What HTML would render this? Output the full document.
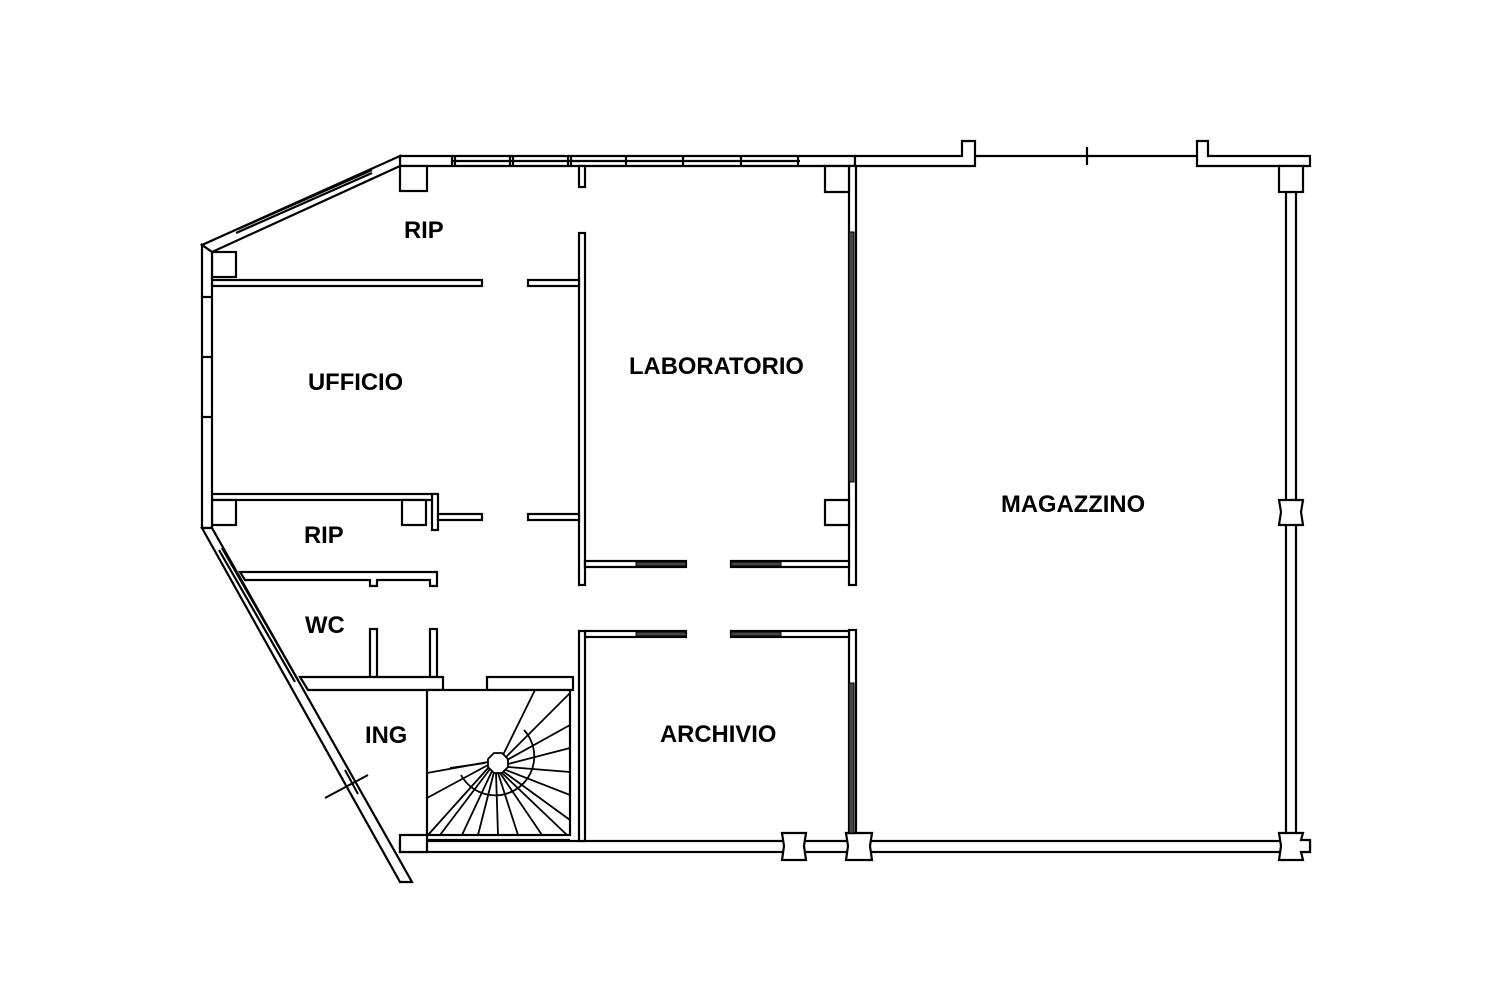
<!DOCTYPE html>
<html><head><meta charset="utf-8"><style>
html,body{margin:0;padding:0;background:#fff;}
svg{display:block}
text{font-family:"Liberation Sans",Arial,sans-serif;font-weight:bold;font-size:23.8px;fill:#000}
</style></head><body>
<svg width="1500" height="1000" viewBox="0 0 1500 1000" xmlns="http://www.w3.org/2000/svg">
<rect width="1500" height="1000" fill="#fff"/>
<g fill="#fff" stroke="#000" stroke-width="2.2" stroke-linejoin="miter">
<polygon points="400,156 855,156 855,166 825,166 825,166 427,166 427,166 400,166"/>
<line x1="452" y1="161" x2="800" y2="161"/>
<line x1="452" y1="156" x2="452" y2="166"/><line x1="455" y1="156" x2="455" y2="166"/>
<line x1="510" y1="156" x2="510" y2="166"/><line x1="513" y1="156" x2="513" y2="166"/>
<line x1="568" y1="156" x2="568" y2="166"/><line x1="571" y1="156" x2="571" y2="166"/>
<line x1="626" y1="156" x2="626" y2="166"/><line x1="683" y1="156" x2="683" y2="166"/>
<line x1="741" y1="156" x2="741" y2="166"/><line x1="798" y1="156" x2="798" y2="166"/>
<polygon points="855,156 962,156 962,141 975,141 975,166 855,166"/>
<line x1="975" y1="156" x2="1197" y2="156"/>
<line x1="1087" y1="147" x2="1087" y2="165"/>
<polygon points="1197,141 1208,141 1208,156 1310,156 1310,166 1208,166 1197,166"/>
<rect x="1286" y="192" width="10" height="648"/>
<rect x="1279" y="166" width="24" height="26"/>
<polygon points="1279,500 1303,500 1301,512 1303,525 1279,525 1281,512"/>
<rect x="400" y="841" width="910" height="11"/>
<polygon points="1279,833 1303,833 1301,840 1310,840 1310,852 1301,852 1303,860 1279,860 1281,846"/>
<polygon points="782,833 806,833 804,846 806,860 782,860 784,846"/>
<polygon points="846,833 872,833 870,846 872,860 846,860 848,846"/>
<rect x="849" y="166" width="7" height="419"/>
<rect x="849" y="630" width="7" height="203"/>
<rect x="849" y="232" width="5" height="250" fill="#444" stroke-width="1"/>
<rect x="849" y="683" width="5" height="150" fill="#444" stroke-width="1"/>
<polygon points="825,166 849,166 849,192 825,192"/>
<polygon points="825,500 849,500 849,525 825,525"/>
<rect x="579" y="233" width="6" height="352"/>
<rect x="579" y="166" width="6" height="21"/>
<rect x="585" y="561" width="101" height="6"/>
<rect x="731" y="561" width="118" height="6"/>
<rect x="636" y="562" width="50" height="4" fill="#444" stroke-width="1"/>
<rect x="731" y="562" width="50" height="4" fill="#444" stroke-width="1"/>
<rect x="585" y="631" width="101" height="6"/>
<rect x="731" y="631" width="118" height="6"/>
<rect x="636" y="632" width="50" height="4" fill="#444" stroke-width="1"/>
<rect x="731" y="632" width="50" height="4" fill="#444" stroke-width="1"/>
<rect x="579" y="631" width="6" height="210"/>
<rect x="212" y="280" width="270" height="6"/>
<rect x="528" y="280" width="51" height="6"/>
<rect x="212" y="494" width="225" height="6"/>
<rect x="432" y="494" width="6" height="36"/>
<rect x="438" y="514" width="44" height="6"/>
<rect x="528" y="514" width="51" height="6"/>
<rect x="400" y="166" width="27" height="25"/>
<rect x="212" y="252" width="24" height="25"/>
<rect x="212" y="500" width="24" height="25"/>
<rect x="402" y="500" width="24" height="25"/>
<polygon points="400,156 202,245 212,252 400,166"/>
<line x1="238" y1="229" x2="372" y2="170"/>
<line x1="236" y1="233" x2="372" y2="173"/>
<polygon points="202,245 212,252 212,528 202,528"/>
<line x1="202" y1="297" x2="212" y2="297"/><line x1="202" y1="357" x2="212" y2="357"/><line x1="202" y1="417" x2="212" y2="417"/>
<polygon points="202,528 212,528 412,882 400,882"/>
<line x1="219" y1="550" x2="295" y2="682"/>
<line x1="222" y1="548" x2="298" y2="680"/>
<polygon points="240,572 437,572 437,586 430,586 430,580 377,580 377,586 370,586 370,580 245,580"/>
<rect x="370" y="629" width="7" height="48"/>
<rect x="430" y="629" width="7" height="48"/>
<polygon points="300,677 443,677 443,690 308,690"/>
<rect x="487" y="677" width="86" height="13"/>
<rect x="427" y="690" width="143" height="145"/>
<line x1="427" y1="840" x2="570" y2="840"/>
<rect x="400" y="835" width="27" height="17"/>
</g>
<g stroke="#000" stroke-width="2" fill="none">
<line x1="325" y1="798" x2="368" y2="775"/>
<line x1="345" y1="770" x2="358" y2="794"/>
</g>
<g stroke="#000" stroke-width="1.8" fill="none">
<path d="M 524 730 A 39 39 0 1 1 461 775"/>
<polygon points="494,753 502,753 508,759 508,767 502,773 494,773 488,767 488,759" fill="#fff"/>
<line x1="503" y1="755" x2="535" y2="690"/>
<line x1="506" y1="757" x2="570" y2="693"/>
<line x1="507" y1="760" x2="570" y2="725"/>
<line x1="508" y1="764" x2="570" y2="748"/>
<line x1="508" y1="767" x2="570" y2="772"/>
<line x1="506" y1="770" x2="570" y2="795"/>
<line x1="504" y1="772" x2="570" y2="820"/>
<line x1="502" y1="773" x2="567" y2="835"/>
<line x1="500" y1="773" x2="542" y2="835"/>
<line x1="498" y1="773" x2="518" y2="835"/>
<line x1="496" y1="773" x2="498" y2="835"/>
<line x1="494" y1="772" x2="478" y2="835"/>
<line x1="492" y1="771" x2="462" y2="835"/>
<line x1="490" y1="769" x2="440" y2="835"/>
<line x1="489" y1="767" x2="428" y2="835"/>
<line x1="488" y1="765" x2="427" y2="798"/>
<line x1="488" y1="762" x2="427" y2="773"/>
<line x1="450" y1="768" x2="485" y2="763"/>
</g>
<text x="404" y="238">RIP</text>
<text x="308" y="390">UFFICIO</text>
<text x="304" y="543">RIP</text>
<text x="305" y="633">WC</text>
<text x="365" y="743">ING</text>
<text x="629" y="374">LABORATORIO</text>
<text x="660" y="742">ARCHIVIO</text>
<text x="1001" y="512">MAGAZZINO</text>
</svg>
</body></html>
